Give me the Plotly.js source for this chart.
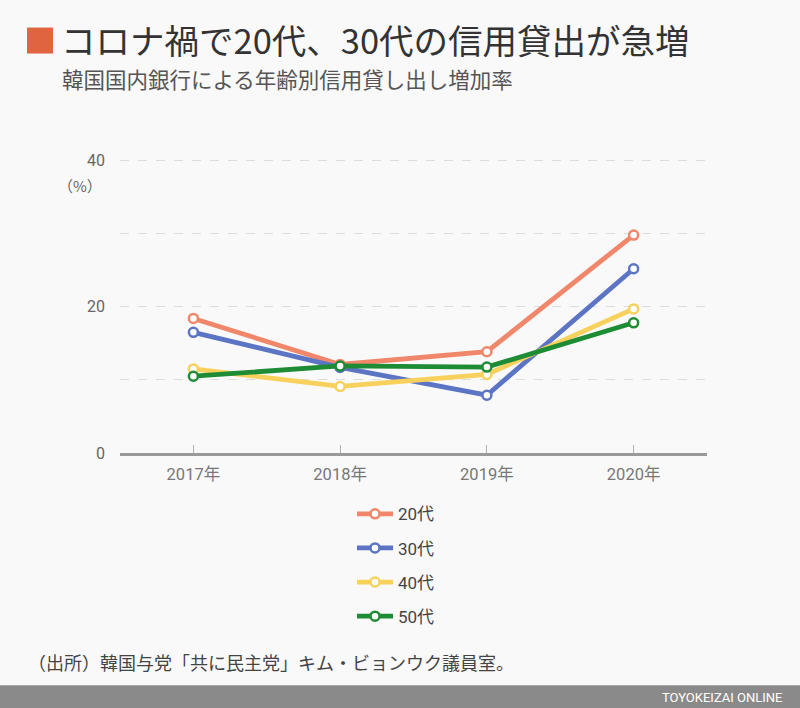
<!DOCTYPE html>
<html><head><meta charset="utf-8">
<script src="https://cdn.plot.ly/plotly-3.0.1.min.js"></script>
<style>html,body{margin:0;padding:0;background:#f9f9f9;}#c{width:800px;height:708px;}</style>
</head><body><div id="c"></div>
<script>
const years = ['2017年','2018年','2019年','2020年'];
const s20 = [18.4, 12.1, 13.85, 29.8];
const s30 = [16.5, 11.7, 7.9, 25.2];
const s40 = [11.5, 9.1, 10.75, 19.7];
const s50 = [10.5, 11.9, 11.75, 17.8];
const names = ['20代','30代','40代','50代'];
const colors = ['#F0876A','#5B74C4','#F8D15C','#1E8C35'];
const series = [s20, s30, s40, s50];
const yTickVals = [0,10,20,30,40];
const yTickText = ['0','','20','','40'];

const L=120, R=707, B=452.7, T=160-0.2*7.32;
const xp = x => (x-L)/(R-L);
const yp = y => (B-y)/(B-T);
const font = 'Roboto, "Noto Sans CJK JP", sans-serif';
const jfont = '"Noto Sans CJK JP", sans-serif';

const traces = series.map((s,i)=>({
  x: years, y: s, name: names[i], type:'scatter', mode:'lines+markers',
  line:{color:colors[i], width:4.8},
  marker:{symbol:'circle', size:9, color:'#ffffff', line:{color:colors[i], width:2.5}},
  legendgroup:'g'+i, hoverinfo:'none'
}));

const layout = {
  width:800, height:708,
  paper_bgcolor:'#f9f9f9', plot_bgcolor:'#f9f9f9',
  margin:{l:L, r:800-R, t:T, b:708-B},
  showlegend:true,
  legend:{x:xp(352), y:yp(496), xanchor:'left', yanchor:'top', orientation:'v',
    font:{family:font, size:17, color:'#444'}, traceorder:'grouped', tracegroupgap:9,
    itemwidth:36, bgcolor:'rgba(0,0,0,0)'},
  xaxis:{type:'category', range:[-0.5,3.5], showgrid:false, zeroline:false,
    showline:true, linecolor:'#9a9a9a', linewidth:3,
    ticks:'inside', ticklen:8, tickcolor:'#b0b0b0', tickwidth:1, ticklabelstandoff:4,
    tickfont:{family:font, size:16.5, color:'#777'}, fixedrange:true},
  yaxis:{range:[0,40.2], tickvals:yTickVals, ticktext:yTickText,
    showgrid:true, gridcolor:'#dcdcdc', griddash:'dash', gridwidth:1,
    zeroline:false, showline:false, ticks:'', ticklabelstandoff:14,
    tickfont:{family:font, size:16, color:'#666'}, fixedrange:true},
  shapes:[
    {type:'rect', xref:'paper', yref:'paper', x0:xp(27), x1:xp(53), y0:yp(27), y1:yp(53),
      fillcolor:'#E0643F', line:{width:0}, layer:'above'},
    {type:'rect', xref:'paper', yref:'paper', x0:xp(0), x1:xp(800), y0:yp(685), y1:yp(708),
      fillcolor:'#8a8a8a', line:{width:0}, layer:'above'}
  ],
  annotations:[
    {text:'コロナ禍で20代、30代の信用貸出が急増', xref:'paper', yref:'paper', x:xp(59), y:yp(38),
      xanchor:'left', yanchor:'middle', showarrow:false,
      font:{family:jfont, size:34.5, color:'#333', weight:400}},
    {text:'韓国国内銀行による年齢別信用貸し出し増加率', xref:'paper', yref:'paper', x:xp(60), y:yp(78),
      xanchor:'left', yanchor:'middle', showarrow:false,
      font:{family:jfont, size:21.5, color:'#555'}},
    {text:'（%）', xref:'paper', yref:'paper', x:xp(104), y:yp(185),
      xanchor:'right', yanchor:'middle', showarrow:false,
      font:{family:jfont, size:15, color:'#666'}},
    {text:'（出所）韓国与党「共に民主党」キム・ビョンウク議員室。', xref:'paper', yref:'paper', x:xp(26), y:yp(662),
      xanchor:'left', yanchor:'middle', showarrow:false,
      font:{family:jfont, size:18, color:'#444'}},
    {text:'TOYOKEIZAI ONLINE', xref:'paper', yref:'paper', x:xp(784), y:yp(697),
      xanchor:'right', yanchor:'middle', showarrow:false,
      font:{family:'Roboto, sans-serif', size:13, color:'#ffffff'}}
  ]
};
Plotly.newPlot('c', traces, layout, {displayModeBar:false, staticPlot:true});
</script></body></html>
